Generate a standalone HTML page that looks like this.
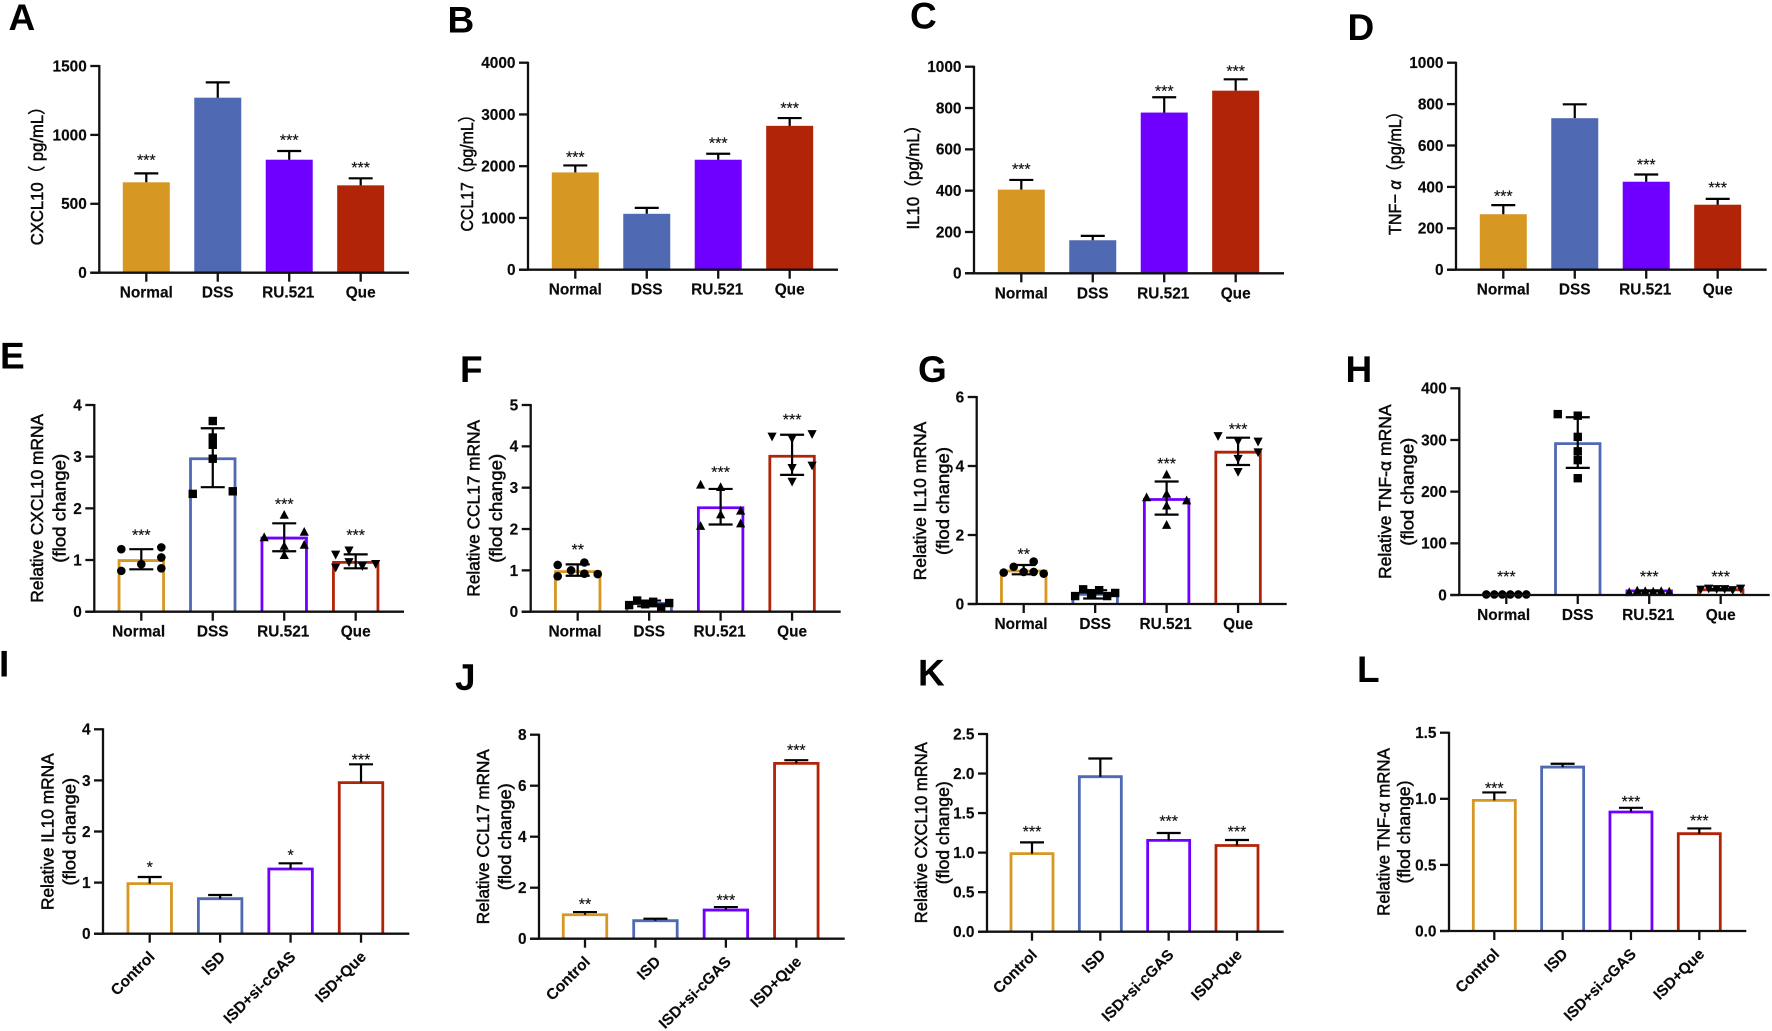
<!DOCTYPE html>
<html lang="en">
<head>
<meta charset="utf-8">
<title>Cytokine bar chart panels A to L</title>
<style>
html,body{margin:0;padding:0;background:#fff;}
svg{display:block;}
text{font-family:"Liberation Sans","Noto Sans CJK SC",sans-serif;fill:#0a0a0a;}
.tick{font-size:15.4px;font-weight:bold;stroke:#0a0a0a;stroke-width:.15px;}
.cat{font-size:15.4px;font-weight:bold;stroke:#0a0a0a;stroke-width:.15px;}
.title{font-size:17.5px;stroke:#0a0a0a;stroke-width:.5px;}
.star{font-size:16px;fill:#111;stroke:#111;stroke-width:.2px;}
.letter{font-size:37px;font-weight:bold;fill:#000;}
</style>
</head>
<body>
<svg id="figure" xmlns="http://www.w3.org/2000/svg" width="1772" height="1031" viewBox="0 0 1772 1031"></svg>
<script>
const categoriesTissue = ["Normal", "DSS", "RU.521", "Que"];
const categoriesCell = ["Control", "ISD", "ISD+si-cGAS", "ISD+Que"];
const seriesColors = ["#D69723", "#4F69B2", "#6F00FF", "#B12408"];

const aTicks = ["0", "500", "1000", "1500"];
const aValues = [656, 1270, 820, 634];
const aHigh = [721, 1381, 883, 685];
const aStars = ["***", "", "***", "***"];
const aStarLevels = [837, 0, 982, 781];

const bTicks = ["0", "1000", "2000", "3000", "4000"];
const bValues = [1880, 1080, 2125, 2780];
const bHigh = [2015, 1195, 2240, 2930];
const bStars = ["***", "", "***", "***"];
const bStarLevels = [2228, 0, 2493, 3175];

const cTicks = ["0", "200", "400", "600", "800", "1000"];
const cValues = [405, 160, 778, 884];
const cHigh = [452, 181, 852, 939];
const cStars = ["***", "", "***", "***"];
const cStarLevels = [518, 0, 895, 992];

const dTicks = ["0", "200", "400", "600", "800", "1000"];
const dValues = [268, 732, 425, 314];
const dHigh = [312, 799, 460, 342];
const dStars = ["***", "", "***", "***"];
const dStarLevels = [367, 0, 520, 409];

const eTicks = ["0", "1", "2", "3", "4"];
const eValues = [0.99, 2.96, 1.425, 0.955];
const eHigh = [1.21, 3.55, 1.71, 1.11];
const eLow = [0.82, 2.41, 1.17, 0.84];
const eStars = ["***", "", "***", "***"];
const eStarLevels = [1.535, 0, 2.13, 1.535];
const ePoints = [
  [1.21, 0.79, 0.92, 1.245, 1.05, 0.84],
  [2.28, 3.69, 3.37, 3.23, 2.96, 2.33],
  [1.445, 1.88, 1.28, 1.10, 1.55, 1.30],
  [1.10, 0.85, 1.18, 0.955, 0.88, 0.92]
];
const eSlots = [
  [-3, -3, 0, 3, 3, 3],
  [-3, 0, 0, 0, 0, 3],
  [-3, 0, 0, 0, 3, 3],
  [-3, -3, -1, -1, 1, 3]
];

const fTicks = ["0", "1", "2", "3", "4", "5"];
const fValues = [0.97, 0.2, 2.515, 3.76];
const fHigh = [1.145, 0.27, 2.97, 4.28];
const fLow = [0.87, 0.13, 2.11, 3.31];
const fStars = ["**", "", "***", "***"];
const fStarLevels = [1.565, 0, 3.44, 4.71];
const fPoints = [
  [1.13, 0.855, 1.0, 1.19, 0.92, 0.91],
  [0.16, 0.27, 0.18, 0.24, 0.10, 0.21],
  [3.08, 2.08, 3.02, 2.36, 2.45, 2.14],
  [4.23, 4.18, 4.29, 3.47, 3.53, 3.14]
];
const fSlots = [
  [-3, -3, -1, 1, 1, 3],
  [-3, -1.8, -0.6, 0.6, 1.8, 3],
  [-3, -3, 0, 0, 3, 3],
  [-3, 0, 3, 0, 3, 0]
];

const gTicks = ["0", "2", "4", "6"];
const gValues = [0.956, 0.28, 3.03, 4.4];
const gHigh = [1.13, 0.40, 3.55, 4.82];
const gLow = [0.86, 0.16, 2.59, 4.03];
const gStars = ["**", "", "***", "***"];
const gStarLevels = [1.517, 0, 4.145, 5.14];
const gPoints = [
  [0.91, 1.08, 0.93, 1.23, 0.93, 0.88],
  [0.23, 0.425, 0.31, 0.40, 0.23, 0.32],
  [3.1, 3.76, 3.2, 2.86, 2.30, 3.01],
  [4.86, 4.71, 4.70, 4.39, 4.2, 3.82]
];
const gSlots = [
  [-3, -1.5, 0, 1.5, 1.5, 3],
  [-3, -1.8, -0.6, 0.6, 1.8, 3],
  [-3, 0, 0, 0, 0, 3],
  [-3, 0, 3, 3, 0, 0]
];

const hTicks = ["0", "100", "200", "300", "400"];
const hValues = [1, 293, 8, 10];
const hHigh = [1.5, 344, 9, 12];
const hLow = [0.5, 246, 7, 9];
const hStars = ["***", "", "***", "***"];
const hStarLevels = [41, 0, 41, 41];
const hPoints = [
  [1, 1, 1, 1, 1, 1],
  [350, 347, 306, 278, 261, 226],
  [6, 9, 8, 7, 8, 7],
  [10, 12, 11, 11, 9, 12]
];
const hSlots = [
  [-3, -1.8, -0.6, 0.6, 1.8, 3],
  [-3, 0, 0, 0, 0, 0],
  [-3, -1.8, -0.6, 0.6, 1.8, 3],
  [-3, -1.8, -0.6, 0.6, 1.8, 3]
];

const iTicks = ["0", "1", "2", "3", "4"];
const iValues = [0.98, 0.685, 1.266, 2.956];
const iHigh = [1.11, 0.757, 1.377, 3.315];
const iStars = ["*", "", "*", "***"];
const iStarLevels = [1.357, 0, 1.586, 3.458];

const jTicks = ["0", "2", "4", "6", "8"];
const jValues = [0.94, 0.706, 1.124, 6.875];
const jHigh = [1.045, 0.784, 1.24, 7.0];
const jStars = ["**", "", "***", "***"];
const jStarLevels = [1.45, 0, 1.608, 7.5];

const kTicks = ["0.0", "0.5", "1.0", "1.5", "2.0", "2.5"];
const kValues = [0.987, 1.96, 1.155, 1.09];
const kHigh = [1.13, 2.19, 1.248, 1.16];
const kStars = ["***", "", "***", "***"];
const kStarLevels = [1.30, 0, 1.43, 1.30];

const lTicks = ["0.0", "0.5", "1.0", "1.5"];
const lValues = [0.988, 1.24, 0.90, 0.736];
const lHigh = [1.048, 1.265, 0.932, 0.776];
const lStars = ["***", "", "***", "***"];
const lStarLevels = [1.10, 0, 0.998, 0.855];

const panels = [
  {id:"a",letter:"A",lx:8.5,ly:30,ax:99.3,y0:272.7,yT:66,c1:146.3,sp:71.46,end:409,bw:47,filled:true,cats:categoriesTissue,ticks:aTicks,vals:aValues,high:aHigh,stars:aStars,starL:aStarLevels,
   title:[{t:"CXCL10（ pg/mL）",x:36.7,len:147}],cy:171.7},
  {id:"b",letter:"B",lx:447.5,ly:32.5,ax:528,y0:269.7,yT:62.7,c1:575.3,sp:71.46,end:838,bw:47,filled:true,cats:categoriesTissue,ticks:bTicks,vals:bValues,high:bHigh,stars:bStars,starL:bStarLevels,
   title:[{t:"CCL17（pg/mL）",x:466.7,len:125}],cy:169},
  {id:"c",letter:"C",lx:910,ly:28.5,ax:974,y0:273.3,yT:66.7,c1:1021.3,sp:71.46,end:1284,bw:47,filled:true,cats:categoriesTissue,ticks:cTicks,vals:cValues,high:cHigh,stars:cStars,starL:cStarLevels,
   title:[{t:"IL10（pg/mL）",x:913,len:113}],cy:173},
  {id:"d",letter:"D",lx:1347.5,ly:40,ax:1456,y0:269.7,yT:62.7,c1:1503.3,sp:71.46,end:1766.7,bw:47,filled:true,cats:categoriesTissue,ticks:dTicks,vals:dValues,high:dHigh,stars:dStars,starL:dStarLevels,
   title:[{t:"TNF− α（pg/mL）",x:1395,len:132}],cy:169},
  {id:"e",letter:"E",lx:0,ly:368.5,ax:94.3,y0:611.7,yT:405,c1:141.3,sp:71.46,end:404,bw:44.5,filled:false,nudge:-2.7,cats:categoriesTissue,ticks:eTicks,vals:eValues,high:eHigh,low:eLow,stars:eStars,starL:eStarLevels,pts:ePoints,slots:eSlots,
   title:[{t:"Relative CXCL10 mRNA",x:36.7,len:188.7},{t:"(flod change)",x:59.3,len:109}],cy:508.3},
  {id:"f",letter:"F",lx:460,ly:382,ax:530.7,y0:611.7,yT:405,c1:577.7,sp:71.46,end:840.7,bw:44.5,filled:false,nudge:-2.7,cats:categoriesTissue,ticks:fTicks,vals:fValues,high:fHigh,low:fLow,stars:fStars,starL:fStarLevels,pts:fPoints,slots:fSlots,
   title:[{t:"Relative CCL17 mRNA",x:473.3,len:176.7},{t:"(flod change)",x:495.7,len:109}],cy:508.3},
  {id:"g",letter:"G",lx:918,ly:382,ax:976.7,y0:604,yT:397,c1:1023.7,sp:71.46,end:1286.7,bw:44.5,filled:false,nudge:-2.7,cats:categoriesTissue,ticks:gTicks,vals:gValues,high:gHigh,low:gLow,stars:gStars,starL:gStarLevels,pts:gPoints,slots:gSlots,
   title:[{t:"Relative IL10 mRNA",x:920,len:158.7},{t:"(flod change)",x:942.7,len:108}],cy:501},
  {id:"h",letter:"H",lx:1345.5,ly:382,ax:1459.3,y0:595,yT:388.3,c1:1506.3,sp:71.46,end:1769.7,bw:44.5,filled:false,nudge:-2.7,cats:categoriesTissue,ticks:hTicks,vals:hValues,high:hHigh,low:hLow,stars:hStars,starL:hStarLevels,pts:hPoints,slots:hSlots,
   title:[{t:"Relative TNF-α mRNA",x:1385,len:174.7},{t:"(flod change)",x:1407.3,len:108}],cy:491.7},
  {id:"i",letter:"I",lx:-1,ly:676.5,ax:103,y0:933.7,yT:729.3,c1:149.7,sp:70.44,end:409.3,bw:43.5,filled:false,rotate:true,cats:categoriesCell,ticks:iTicks,vals:iValues,high:iHigh,stars:iStars,starL:iStarLevels,
   title:[{t:"Relative IL10 mRNA",x:47.3,len:156.7},{t:"(flod change)",x:69.3,len:107.7}],cy:831.7},
  {id:"j",letter:"J",lx:455,ly:690,ax:539,y0:938.7,yT:734.7,c1:585,sp:70.44,end:844.7,bw:43.5,filled:false,rotate:true,cats:categoriesCell,ticks:jTicks,vals:jValues,high:jHigh,stars:jStars,starL:jStarLevels,
   title:[{t:"Relative CCL17 mRNA",x:482.7,len:175},{t:"(flod change)",x:505,len:107}],cy:836.7},
  {id:"k",letter:"K",lx:918,ly:685.5,ax:987,y0:931.7,yT:734,c1:1032,sp:68.33,end:1283.7,bw:42,filled:false,rotate:true,cats:categoriesCell,ticks:kTicks,vals:kValues,high:kHigh,stars:kStars,starL:kStarLevels,
   title:[{t:"Relative CXCL10 mRNA",x:920.7,len:181},{t:"(flod change)",x:942.7,len:103}],cy:832.7},
  {id:"l",letter:"L",lx:1357,ly:682,ax:1449,y0:931,yT:732.7,c1:1494.3,sp:68.33,end:1746.3,bw:42,filled:false,rotate:true,cats:categoriesCell,ticks:lTicks,vals:lValues,high:lHigh,stars:lStars,starL:lStarLevels,
   title:[{t:"Relative TNF-α mRNA",x:1383.3,len:167.7},{t:"(flod change)",x:1404,len:103}],cy:832}
];

const NS = "http://www.w3.org/2000/svg";
const svg = document.getElementById("figure");
const AXIS_W = 2.3, SLOT_W = 6.67, CAP = 12;

function mk(tag, parent, attrs) {
  const n = document.createElementNS(NS, tag);
  for (const k in attrs) n.setAttribute(k, attrs[k]);
  parent.appendChild(n);
  return n;
}

function drawMarker(group, seriesIndex, x, y) {
  let el;
  if (seriesIndex === 0) {
    el = mk("circle", group, {cx:x, cy:y, r:4.3, fill:"#000"});
  } else if (seriesIndex === 1) {
    el = mk("rect", group, {x:x-4.2, y:y-4.2, width:8.4, height:8.4, fill:"#000"});
  } else if (seriesIndex === 2) {
    el = mk("polygon", group, {points:`${x-4.6},${y+4.2} ${x+4.6},${y+4.2} ${x},${y-4.6}`, fill:"#000"});
  } else {
    el = mk("polygon", group, {points:`${x-4.6},${y-4.2} ${x+4.6},${y-4.2} ${x},${y+4.6}`, fill:"#000"});
  }
  return el;
}

function drawPanel(p) {
  const yMax = parseFloat(p.ticks[p.ticks.length - 1]);
  const yScale = v => p.y0 - (v / yMax) * (p.y0 - p.yT);
  const xScale = i => p.c1 + i * p.sp;

  const g = mk("g", svg, {});
  
  

  const letter = mk("text", g, {x:p.lx, y:p.ly, class:"letter"});
  letter.textContent = p.letter;
  
  

  p.vals.forEach((v, i) => {
    const cx = xScale(i);
    const top = yScale(v);
    let bar;
    if (p.filled) {
      bar = mk("rect", g, {x:cx-p.bw/2, y:top, width:p.bw, height:p.y0-top, fill:seriesColors[i]});
    } else {
      bar = mk("path", g, {d:`M${cx-p.bw/2},${p.y0} V${top} H${cx+p.bw/2} V${p.y0}`, fill:"none", stroke:seriesColors[i], "stroke-width":2.8});
    }
    
    

    if (p.pts) {
      p.pts[i].forEach((pv, k) => {
        const mark = drawMarker(g, i, cx + p.slots[i][k] * SLOT_W, yScale(pv));
        
        
      });
    }

    const hiY = yScale(p.high[i]);
    const loY = p.low ? yScale(p.low[i]) : top;
    let d = `M${cx},${loY} V${hiY} M${cx-CAP},${hiY} H${cx+CAP}`;
    if (p.low) d += ` M${cx-CAP},${loY} H${cx+CAP}`;
    const err = mk("path", g, {d:d, fill:"none", stroke:"#000", "stroke-width":2.2});
    
    

    if (p.stars[i]) {
      const st = mk("text", g, {x:cx, y:yScale(p.starL[i]) + 8, "text-anchor":"middle", class:"star"});
      st.textContent = p.stars[i];
      
      
    }
  });

  const yAxis = mk("line", g, {x1:p.ax, x2:p.ax, y1:p.yT-1, y2:p.y0+1, stroke:"#111", "stroke-width":AXIS_W});
  
  

  const xAxis = mk("line", g, {x1:p.ax-9, x2:p.end, y1:p.y0, y2:p.y0, stroke:"#111", "stroke-width":AXIS_W});
  
  

  p.ticks.forEach(t => {
    const y = yScale(parseFloat(t));
    const tk = mk("line", g, {x1:p.ax-9, x2:p.ax, y1:y, y2:y, stroke:"#111", "stroke-width":AXIS_W});
    
    
    const lb = mk("text", g, {x:p.ax-12.5, y:y+5.4, "text-anchor":"end", class:"tick"});
    lb.textContent = t;
    
    
  });

  p.cats.forEach((c, i) => {
    const cx = xScale(i);
    const tk = mk("line", g, {x1:cx, x2:cx, y1:p.y0, y2:p.y0+9, stroke:"#111", "stroke-width":AXIS_W});
    
    
    let lb;
    if (p.rotate) {
      const ax = cx + 6, ay = p.y0 + 24;
      lb = mk("text", g, {x:ax, y:ay, "text-anchor":"end", transform:`rotate(-45 ${ax} ${ay})`, class:"cat"});
    } else {
      const shift = (i === 0 && p.nudge) ? p.nudge : (i === 2 ? -1 : 0);
      lb = mk("text", g, {x:cx+shift, y:p.y0+25, "text-anchor":"middle", class:"cat"});
    }
    lb.textContent = c;
    
    
  });

  p.title.forEach(line => {
    const bx = line.x + 6.2;
    const tt = mk("text", g, {x:bx, y:p.cy, "text-anchor":"middle", transform:`rotate(-90 ${bx} ${p.cy})`, class:"title", textLength:line.len, lengthAdjust:"spacingAndGlyphs"});
    if (p.id === "d") {
      const parts = line.t.split("α");
      const before = mk("tspan", tt, {});
      before.textContent = parts[0];
      const alpha = mk("tspan", tt, {"font-style":"italic"});
      alpha.textContent = "α";
      const after = mk("tspan", tt, {});
      after.textContent = parts[1];
    } else {
      tt.textContent = line.t;
    }
    
    
  });
}

panels.forEach(drawPanel);
</script>
</body>
</html>
